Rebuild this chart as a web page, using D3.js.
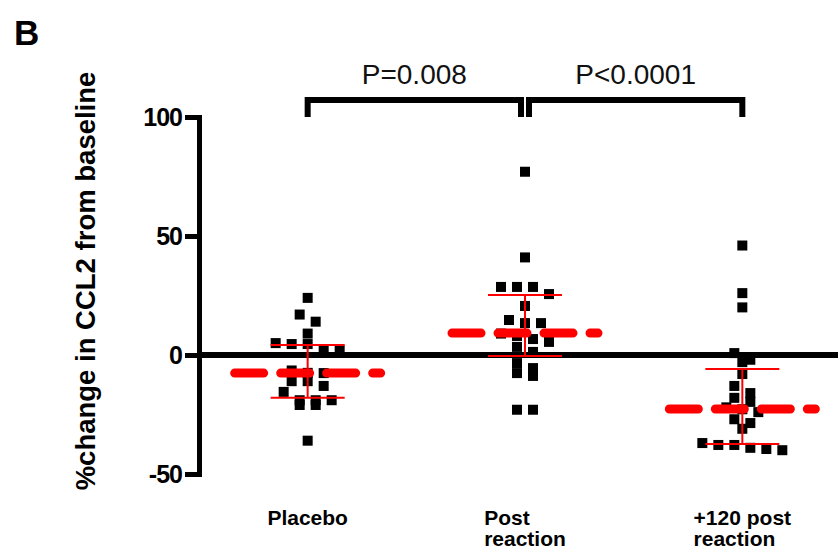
<!DOCTYPE html>
<html>
<head>
<meta charset="utf-8">
<script src="https://cdn.jsdelivr.net/npm/d3@7"></script>
<style>
  body { margin: 0; background: #fff; }
  svg { display: block; font-family: "Liberation Sans", Arial, sans-serif; }
</style>
</head>
<body>
<svg id="chart" width="838" height="552"></svg>
<script>
"use strict";

// groups along the x axis (label lines)
let groups = ["Placebo", "Post reaction", "+120 post reaction"];
let group_lines = [["Placebo"], ["Post", "reaction"], ["+120 post", "reaction"]];

// % change per subject
let placebo = [24, 17, 14, 9, 5, 4.6, 4.6, 2, 2, -6.5, -7.5, -7.6, -11, -11, -13, -15.5, -19, -19, -19, -21, -21, -36];
let post_reaction = [77, 41, 28.6, 28.6, 28.6, 25.6, 20.6, 14.7, 13.4, 13.4, 9, 8, 6.7, 5.5, 3.4, 1.3, -3.4, -5.5, -7.6, -8.8, -23, -23];
let post_120 = [46, 26, 20, 0.8, -2, -3, -8, -13, -16, -18, -19.7, -22, -22.8, -24, -27, -28.6, -31, -37, -37.8, -37.8, -39, -39.5, -40];

// median and interquartile range (red)
let medians = [-7.6, 9.2, -22.7];
let q_low = [-18, -0.4, -37.4];
let q_high = [4.2, 25.2, -5.9];

let y_ticks = [-50, 0, 50, 100];

// significance brackets
let comparisons = [[0, 1, "P=0.008"], [1, 2, "P<0.0001"]];

let values = [placebo, post_reaction, post_120];

let svg = d3.select("#chart");
svg.append("rect").attr("width", 838).attr("height", 552).attr("fill", "#fff");

let x = d3.scalePoint().domain(groups).range([199, 851]).padding(0.5);
let y = d3.scaleLinear().domain([-50, 100]).range([474, 117]);

// panel letter
svg.append("text").attr("x", 14).attr("y", 45)
    .attr("font-size", 35).attr("font-weight", "bold").text("B");

// y axis title
svg.append("text")
    .attr("transform", "translate(95," + 281 + ") rotate(-90)")
    .attr("text-anchor", "middle")
    .attr("font-size", 27.5).attr("font-weight", "bold")
    .text("%change in CCL2 from baseline");

// y axis
let y_axis = svg.append("g").attr("transform", "translate(199,0)")
    .call(d3.axisLeft(y).tickValues(y_ticks).tickSize(14).tickPadding(3).tickFormat(d => String(d)));
y_axis.select(".domain").attr("stroke-width", 5).attr("stroke-linejoin", "miter");
y_axis.selectAll(".tick line").attr("stroke-width", 5);
y_axis.selectAll(".tick text")
    .attr("font-size", 25).attr("font-weight", "bold")
    .attr("font-family", "Liberation Sans, Arial, sans-serif")
    .attr("letter-spacing", -1).attr("fill", "#000");

// zero line
svg.append("line")
    .attr("x1", 199).attr("x2", 838).attr("y1", y(0)).attr("y2", y(0))
    .attr("stroke", "#000").attr("stroke-width", 6);

// prism style column scatter: rows of points at similar heights are spread out
function swarm(vals, cx) {
    let sorted = vals.slice().sort((a, b) => b - a);
    let out = [];
    let row = [];
    let flush = () => {
        row.forEach((v, i) => out.push({ x: cx + (i - (row.length - 1) / 2) * 16, y: y(v) }));
        row = [];
    };
    sorted.forEach(v => {
        if (row.length && y(v) - y(row[0]) > 9) flush();
        row.push(v);
    });
    flush();
    return out;
}

let size = 10;
groups.forEach((g, i) => {
    let pts = swarm(values[i], x(g));
    svg.append("g").selectAll("rect").data(pts).join("rect")
        .attr("x", d => d.x - size / 2).attr("y", d => d.y - size / 2)
        .attr("width", size).attr("height", size).attr("fill", "#000");
});

// median (thick dashed) and IQR bars
let red = "#ff0000";
groups.forEach((g, i) => {
    let cx = x(g);
    let gg = svg.append("g");
    gg.append("line")
        .attr("x1", cx).attr("x2", cx).attr("y1", y(q_low[i])).attr("y2", y(q_high[i]))
        .attr("stroke", red).attr("stroke-width", 2);
    [q_low[i], q_high[i]].forEach(v => {
        gg.append("line")
            .attr("x1", cx - 37).attr("x2", cx + 37).attr("y1", y(v)).attr("y2", y(v))
            .attr("stroke", red).attr("stroke-width", 2);
    });
    gg.append("line")
        .attr("x1", cx - 73).attr("x2", cx + 73).attr("y1", y(medians[i])).attr("y2", y(medians[i]))
        .attr("stroke", red).attr("stroke-width", 9)
        .attr("stroke-linecap", "round").attr("stroke-dasharray", "29,17");
});

// brackets
let bracket_top = 100;
comparisons.forEach((c, i) => {
    let x1 = x(groups[c[0]]) + (i > 0 ? 4 : 0);
    let x2 = x(groups[c[1]]) - (i < comparisons.length - 1 ? 4 : 0);
    svg.append("path")
        .attr("d", "M" + x1 + "," + y(100) + "V" + bracket_top + "H" + x2 + "V" + y(100))
        .attr("fill", "none").attr("stroke", "#000").attr("stroke-width", 6)
        .attr("stroke-linejoin", "miter");
    svg.append("text")
        .attr("x", (x1 + x2) / 2).attr("y", 84)
        .attr("text-anchor", "middle").attr("font-size", 28).attr("fill", "#111")
        .text(c[2]);
});

// x labels: block centred on the group, lines left aligned
groups.forEach((g, i) => {
    let t = svg.append("text").attr("font-size", 21).attr("font-weight", "bold");
    let spans = group_lines[i].map((line, j) =>
        t.append("tspan").attr("y", 525 + j * 21).text(line));
    let widest = d3.max(spans, s => s.node().getComputedTextLength());
    spans.forEach(s => s.attr("x", x(g) - widest / 2));
});
</script>
</body>
</html>
